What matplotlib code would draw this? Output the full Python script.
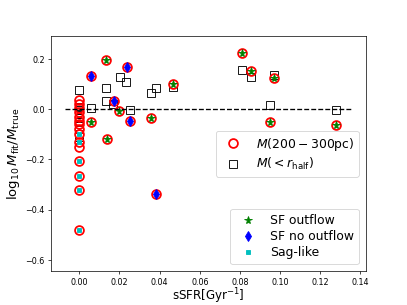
import matplotlib
matplotlib.use("Agg")
import matplotlib.pyplot as plt
from matplotlib.lines import Line2D

# M(200-300pc) estimates, split by galaxy type
sf_out_x = [0.0135, 0.0056, 0.020, 0.0358, 0.014, 0.0467, 0.0813, 0.0854, 0.097, 0.0949, 0.128]
sf_out_y = [0.197, -0.052, -0.007, -0.036, -0.118, 0.101, 0.223, 0.154, 0.126, -0.052, -0.063]

sf_noout_x = [0.0056, 0.0235, 0.0174, 0.025, 0.038]
sf_noout_y = [0.132, 0.170, 0.032, -0.048, -0.337]

sag_x = [0.0, 0.0, 0.0, 0.0, 0.0, 0.0]
sag_y = [-0.10, -0.13, -0.205, -0.265, -0.32, -0.48]

other_x = [0.0, 0.0, 0.0, 0.0, 0.0, 0.0, 0.0, 0.0, 0.0]
other_y = [0.035, 0.02, 0.005, -0.01, -0.03, -0.045, -0.06, -0.08, -0.15]

# M(<r_half) estimates
half_x = [0.0, 0.0, 0.0, 0.0, 0.0, 0.0, 0.0, 0.0, 0.0,
          0.0056, 0.0135, 0.0135, 0.0168, 0.0204, 0.0234, 0.0254,
          0.0358, 0.038, 0.0467, 0.0813, 0.0854, 0.097, 0.0949, 0.128]
half_y = [0.077, 0.01, -0.005, -0.02, -0.035, -0.05, -0.065, -0.08, -0.11,
          0.006, 0.086, 0.033, 0.02, 0.13, 0.11, -0.003,
          0.064, 0.086, 0.09, 0.157, 0.130, 0.137, 0.017, -0.003]

circ_x = sf_out_x + sf_noout_x + sag_x + other_x
circ_y = sf_out_y + sf_noout_y + sag_y + other_y

fig = plt.figure(figsize=(6.4, 4.8), dpi=407 / 6.4)
ax = fig.add_subplot(1, 1, 1)

ax.plot(half_x, half_y, ls="none", marker="s", ms=10, mfc="none", mec="k", mew=1)
ax.plot(circ_x, circ_y, ls="none", marker="o", ms=10, mfc="none", mec="red", mew=2)
ax.plot(sf_out_x, sf_out_y, ls="none", marker="*", ms=9, color="green")
ax.plot(sf_noout_x, sf_noout_y, ls="none", marker="d", ms=8, color="blue")
ax.plot(sag_x, sag_y, ls="none", marker="s", ms=5, color="c")

ax.plot([-0.007, 0.136], [0, 0], "k--")

ax.set_xlim(-0.0142, 0.143)
ax.set_ylim(-0.646, 0.29)
ax.tick_params(labelsize=9)
ax.set_xlabel(r"sSFR[Gyr$^{-1}$]", fontsize=13.5, labelpad=0)
ax.set_ylabel(r"$\log_{10}M_{\rm fit}/M_{\rm true}$", fontsize=15)

h1 = [Line2D([], [], ls="none", marker="o", ms=10, mfc="none", mec="red", mew=2),
      Line2D([], [], ls="none", marker="s", ms=10, mfc="none", mec="k", mew=1)]
leg1 = ax.legend(h1, [r"$M(200-300\mathrm{pc})$", r"$M(<r_{\rm half})$"],
                 loc="center right", fontsize=14, labelspacing=0.25, borderaxespad=0.6)
ax.add_artist(leg1)

h2 = [Line2D([], [], ls="none", marker="*", ms=9, color="green"),
      Line2D([], [], ls="none", marker="d", ms=8, color="blue"),
      Line2D([], [], ls="none", marker="s", ms=5, color="c")]
ax.legend(h2, ["SF outflow", "SF no outflow", "Sag-like"], loc="lower right",
          fontsize=14, labelspacing=0.25, borderaxespad=0.6)

fig.savefig("out.png")
